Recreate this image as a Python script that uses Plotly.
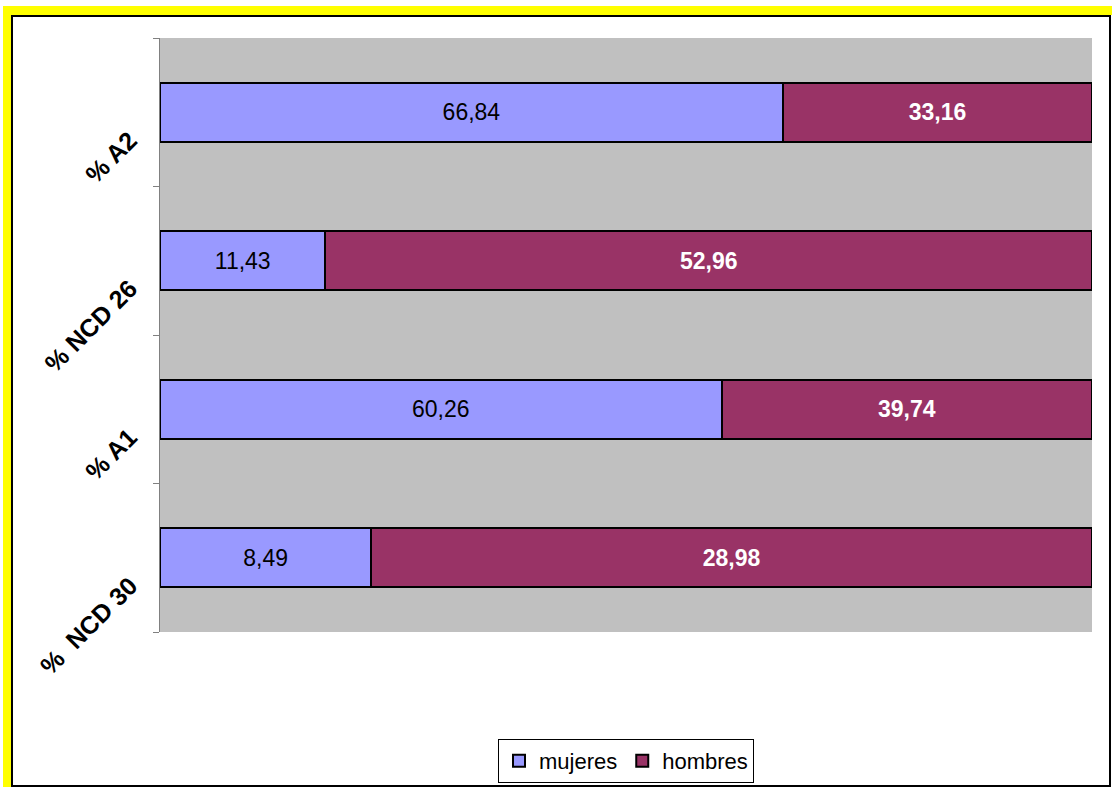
import plotly.graph_objects as go

categories = ["%\u00a0\u00a0NCD 30", "% A1", "% NCD 26", "% A2"]
mujeres = [8.49, 60.26, 11.43, 66.84]
hombres = [28.98, 39.74, 52.96, 33.16]
series_names = ["mujeres", "hombres"]

W, H = 1112, 787
L, R, T, B = 160, 20, 38, 155
PW, PH = W - L - R, H - T - B


def px_x(x):
    return (x - L) / PW


def px_y(y):
    return (H - B - y) / PH


def fmt(v):
    return f"{v:.2f}".replace(".", ",")


FONT = "Arial, 'Liberation Sans', sans-serif"
FS = 23

fig = go.Figure()
fig.add_trace(go.Bar(
    y=categories, x=mujeres, name=series_names[0], orientation="h",
    marker=dict(color="#9999FF", line=dict(color="black", width=2)),
    text=[fmt(v) for v in mujeres], textposition="inside",
    insidetextanchor="middle", textangle=0,
    textfont=dict(family=FONT, size=FS, color="black"),
    hoverinfo="skip",
))
fig.add_trace(go.Bar(
    y=categories, x=hombres, name=series_names[1], orientation="h",
    marker=dict(color="#993366", line=dict(color="black", width=2)),
    text=["<b>" + fmt(v) + "</b>" for v in hombres], textposition="inside",
    insidetextanchor="middle", textangle=0,
    textfont=dict(family=FONT, size=FS, color="white"),
    hoverinfo="skip",
))

annotations = []
for c in categories:
    annotations.append(dict(
        text="<b>" + c + "</b>", xref="paper", yref="y", x=px_x(145), y=c,
        xanchor="right", yanchor="top", yshift=-11, textangle=-45,
        showarrow=False, font=dict(family=FONT, size=25, color="black"),
    ))

shapes = [
    dict(type="rect", xref="paper", yref="paper", x0=px_x(3), x1=px_x(1112),
         y0=px_y(15), y1=px_y(6), fillcolor="#FFFF00", line=dict(width=0)),
    dict(type="rect", xref="paper", yref="paper", x0=px_x(3), x1=px_x(11),
         y0=px_y(787), y1=px_y(6), fillcolor="#FFFF00", line=dict(width=0)),
    dict(type="rect", xref="paper", yref="paper", x0=px_x(12), x1=px_x(1110),
         y0=px_y(786), y1=px_y(16), fillcolor="rgba(0,0,0,0)",
         line=dict(color="black", width=2)),
]

fig.update_layout(
    width=W, height=H,
    margin=dict(l=L, r=R, t=T, b=B, pad=0, autoexpand=False),
    barmode="stack", barnorm="percent", bargap=0.6,
    plot_bgcolor="#C0C0C0", paper_bgcolor="white",
    font=dict(family=FONT, size=FS, color="black"),
    xaxis=dict(visible=False, range=[0, 100], fixedrange=True),
    yaxis=dict(showline=True, linecolor="#808080", linewidth=1,
               ticks="outside", ticklen=6, tickcolor="#808080",
               tickson="boundaries", showticklabels=False, showgrid=False,
               zeroline=False, fixedrange=True,
               autorange=False, range=[-0.5, len(categories) - 0.5]),
    legend=dict(orientation="h", x=0.5, xanchor="center",
                yref="container", y=1 - 739 / H, yanchor="top",
                bordercolor="black", borderwidth=1,
                bgcolor="white", font=dict(family=FONT, size=22),
                traceorder="normal", itemwidth=30, itemsizing="constant"),
    annotations=annotations,
    shapes=shapes,
    showlegend=True,
)

fig.write_html(
    "out.html",
    config={"displayModeBar": False},
    post_script="document.body.style.margin='0';document.body.style.overflow='hidden';",
)
